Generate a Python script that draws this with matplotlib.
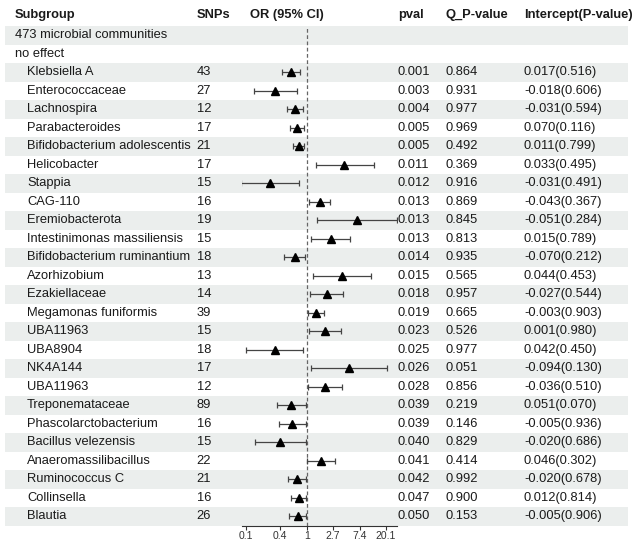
import numpy as np
import matplotlib
matplotlib.use("Agg")
import matplotlib.pyplot as plt

plt.rcParams['font.family'] = ['Liberation Sans', 'DejaVu Sans']

# ---------------- data ----------------
subgroups = ["Klebsiella A", "Enterococcaceae", "Lachnospira", "Parabacteroides",
             "Bifidobacterium adolescentis", "Helicobacter", "Stappia", "CAG-110",
             "Eremiobacterota", "Intestinimonas massiliensis", "Bifidobacterium ruminantium",
             "Azorhizobium", "Ezakiellaceae", "Megamonas funiformis", "UBA11963", "UBA8904",
             "NK4A144", "UBA11963", "Treponemataceae", "Phascolarctobacterium",
             "Bacillus velezensis", "Anaeromassilibacillus", "Ruminococcus C", "Collinsella",
             "Blautia"]
snps = [43, 27, 12, 17, 21, 17, 15, 16, 19, 15, 18, 13, 14, 39, 15, 18, 17, 12, 89, 16,
        15, 22, 21, 16, 26]
or_est = [0.545, 0.30, 0.64, 0.70, 0.75, 4.15, 0.25, 1.64, 6.6, 2.51, 0.63, 3.85, 2.13,
          1.42, 2.02, 0.30, 4.9, 2.02, 0.55, 0.58, 0.36, 1.74, 0.69, 0.74, 0.72]
or_low = [0.392, 0.136, 0.474, 0.54, 0.60, 1.41, 0.084, 1.10, 1.49, 1.19, 0.43, 1.27, 1.13,
          1.04, 1.09, 0.10, 1.19, 1.06, 0.33, 0.35, 0.14, 1.01, 0.50, 0.55, 0.52]
or_up = [0.785, 0.685, 0.87, 0.91, 0.91, 12.8, 0.75, 2.45, 30.0, 5.16, 0.93, 11.3, 4.0,
         1.95, 3.71, 0.86, 20.7, 3.85, 0.985, 0.985, 0.97, 2.96, 0.985, 0.985, 0.985]
pvals = ["0.001", "0.003", "0.004", "0.005", "0.005", "0.011", "0.012", "0.013", "0.013",
         "0.013", "0.014", "0.015", "0.018", "0.019", "0.023", "0.025", "0.026", "0.028",
         "0.039", "0.039", "0.040", "0.041", "0.042", "0.047", "0.050"]
q_pvals = ["0.864", "0.931", "0.977", "0.969", "0.492", "0.369", "0.916", "0.869", "0.845",
           "0.813", "0.935", "0.565", "0.957", "0.665", "0.526", "0.977", "0.051", "0.856",
           "0.219", "0.146", "0.829", "0.414", "0.992", "0.900", "0.153"]
intercepts = ["0.017(0.516)", "-0.018(0.606)", "-0.031(0.594)", "0.070(0.116)",
              "0.011(0.799)", "0.033(0.495)", "-0.031(0.491)", "-0.043(0.367)",
              "-0.051(0.284)", "0.015(0.789)", "-0.070(0.212)", "0.044(0.453)",
              "-0.027(0.544)", "-0.003(0.903)", "0.001(0.980)", "0.042(0.450)",
              "-0.094(0.130)", "-0.036(0.510)", "0.051(0.070)", "-0.005(0.936)",
              "-0.020(0.686)", "0.046(0.302)", "-0.020(0.678)", "0.012(0.814)",
              "-0.005(0.906)"]
headers = ["Subgroup", "SNPs", "OR (95% CI)", "pval", "Q_P-value", "Intercept(P-value)"]
group_rows = ["473 microbial communities", "no effect"]
tick_values = [0.1, np.exp(-1), 1, np.e, np.exp(2), np.exp(3)]
tick_labels = ["0.1", "0.4", "1", "2.7", "7.4", "20.1"]

# ---------------- layout ----------------
W, H = 635, 543
fig = plt.figure(figsize=(W / 100, H / 100), dpi=100)
bg = fig.add_axes([0, 0, 1, 1])
bg.set_xlim(0, W)
bg.set_ylim(H, 0)
bg.axis("off")

row_h = 18.5
top = 26.0
n_rows = len(group_rows) + len(subgroups)
fs = 9.3
txt_col = "#1a1a1a"
stripe = "#EBEEED"

def row_y(i):
    return top + row_h * (i + 0.5)

for i in range(n_rows):
    if i % 2 == 0:
        bg.add_patch(plt.Rectangle((5, top + row_h * i), 623, row_h, color=stripe, lw=0, zorder=0))

col_x = [15, 196.5, 250, 398, 445, 524]
for x, h in zip(col_x, headers):
    bg.text(x, 15, h, fontsize=fs, fontweight="bold", va="center", ha="left", color=txt_col)

for i, g in enumerate(group_rows):
    bg.text(15, row_y(i), g, fontsize=fs, va="center", ha="left", color=txt_col)

off = len(group_rows)
for k in range(len(subgroups)):
    y = row_y(k + off)
    bg.text(27, y, subgroups[k], fontsize=fs, va="center", ha="left", color=txt_col)
    bg.text(col_x[1], y, str(snps[k]), fontsize=fs, va="center", ha="left", color=txt_col)
    bg.text(col_x[3], y, pvals[k], fontsize=fs, va="center", ha="left", color=txt_col)
    bg.text(col_x[4], y, q_pvals[k], fontsize=fs, va="center", ha="left", color=txt_col)
    bg.text(col_x[5], y, intercepts[k], fontsize=fs, va="center", ha="left", color=txt_col)

# ---------------- forest panel ----------------
x0_px, x1_px = 242, 396.5
bot_px = top + row_h * n_rows
fa = fig.add_axes([x0_px / W, 1 - bot_px / H, (x1_px - x0_px) / W, (bot_px - top) / H])
fa.patch.set_alpha(0)
fa.set_xscale("log")
fa.set_xlim(np.exp(-2.45), np.exp(3.40))
fa.set_ylim(n_rows - 0.5, -0.5)
for s in ["top", "left", "right"]:
    fa.spines[s].set_visible(False)
fa.spines["bottom"].set_color("#333333")
fa.spines["bottom"].set_linewidth(0.8)
fa.set_yticks([])
fa.xaxis.set_minor_locator(matplotlib.ticker.NullLocator())
fa.set_xticks(tick_values)
fa.set_xticklabels(tick_labels)
fa.tick_params(axis="x", labelsize=7.5, colors="#333333", length=3, width=0.8, pad=0.8)

fa.axvline(1, color="#666666", lw=0.9, ls=(0, (3, 2)), zorder=1)

ys = np.arange(len(subgroups)) + off
est = np.array(or_est)
lo = np.array(or_low)
up = np.array(or_up)
fa.errorbar(est, ys, xerr=[est - lo, up - est], fmt="none", ecolor="#444444",
            elinewidth=0.9, capsize=2, capthick=0.9, zorder=2)
fa.plot(est, ys, linestyle="none", marker="^", markersize=6, color="black", zorder=3)

fig.savefig("out.png", dpi=100)
